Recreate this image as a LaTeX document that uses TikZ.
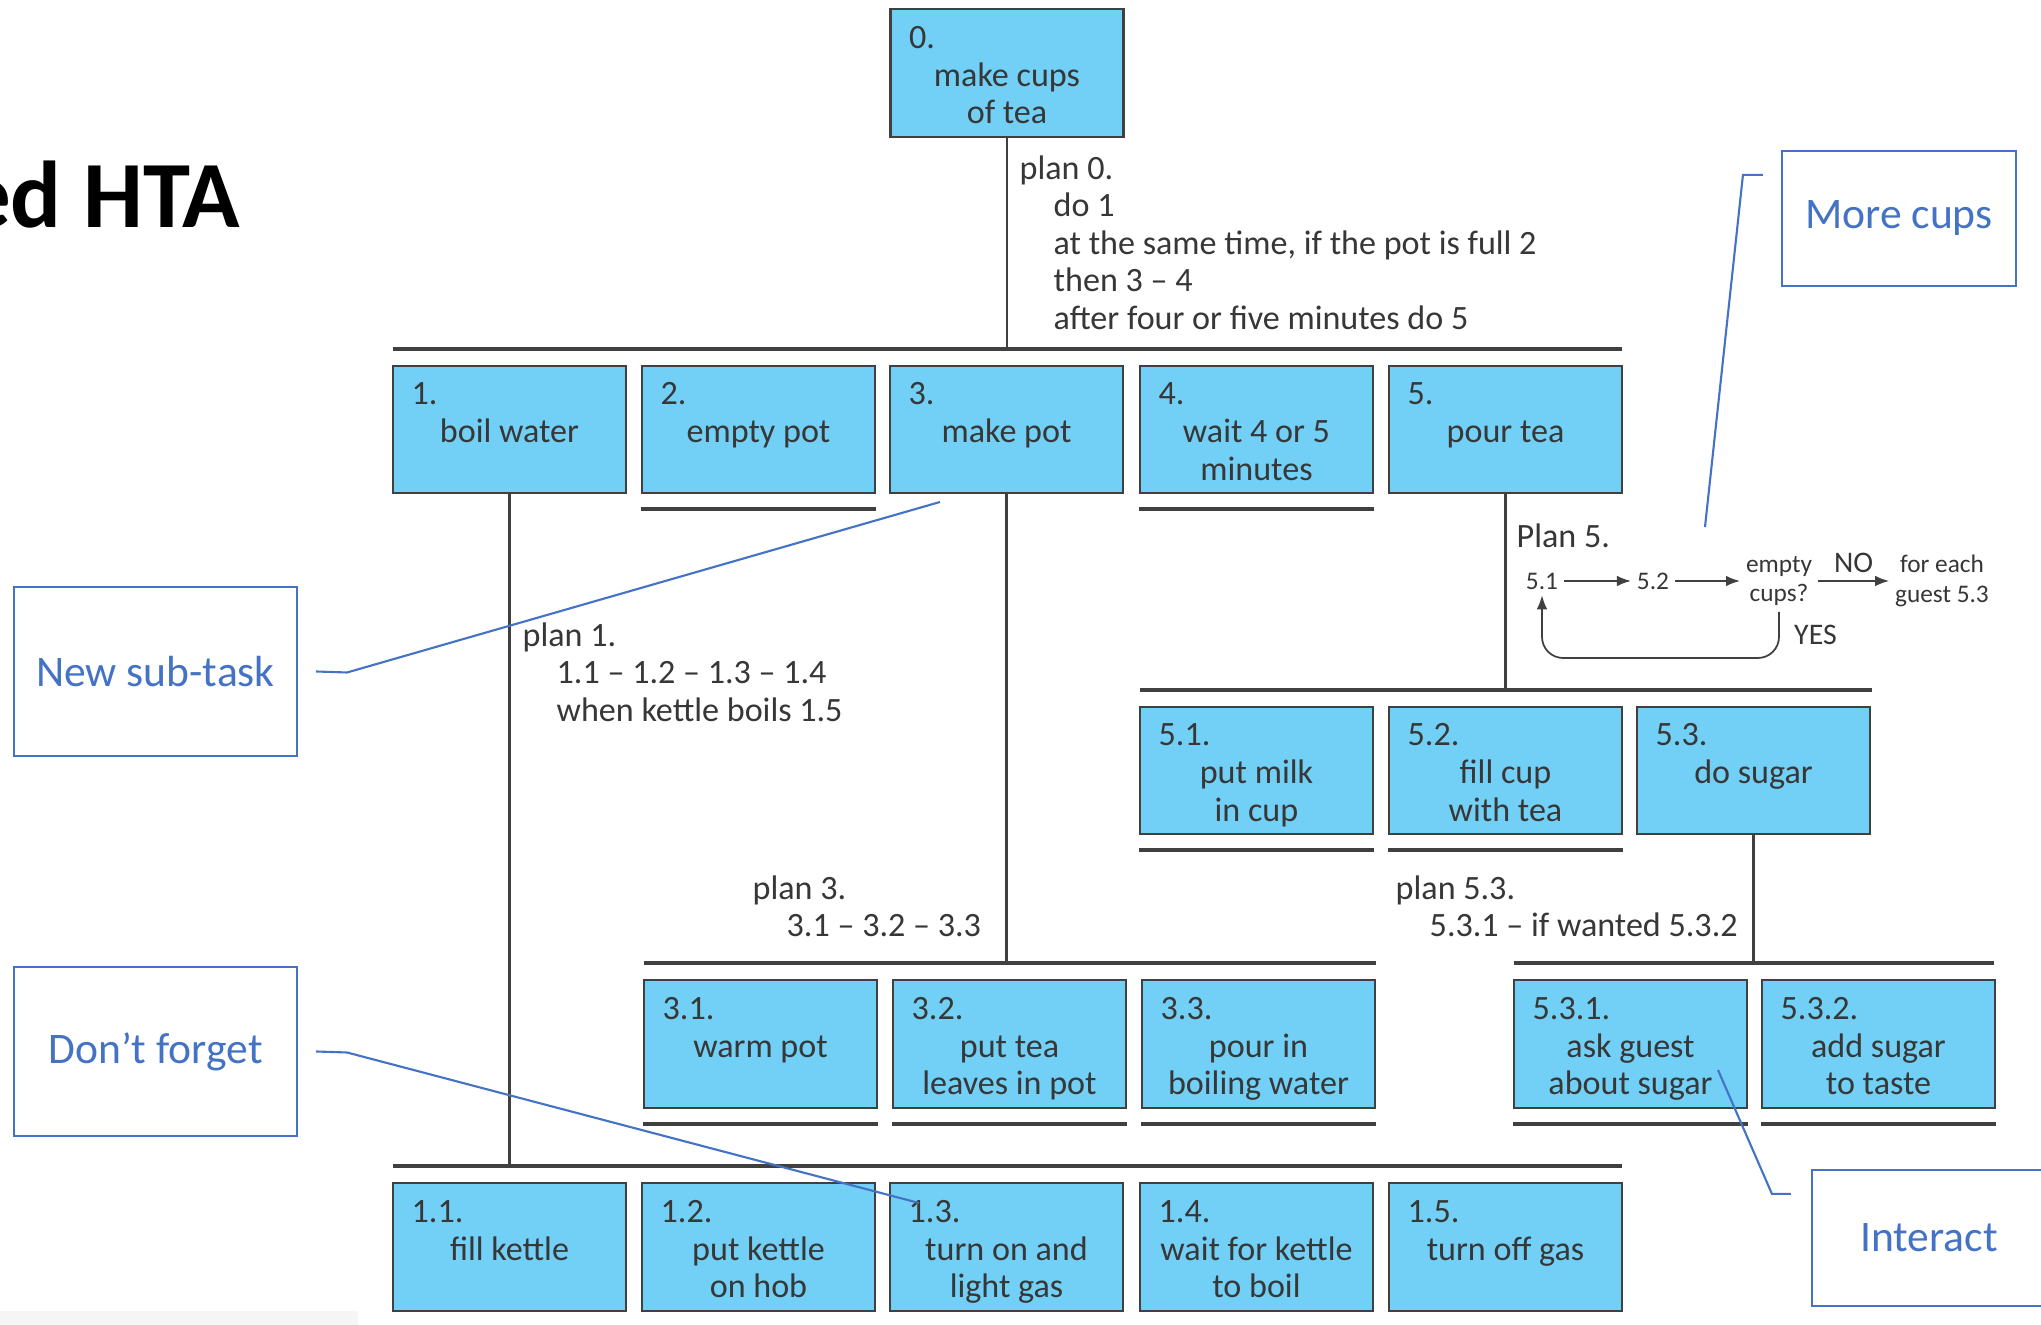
\documentclass[tikz,border=0pt]{standalone}
\usepackage{fontspec}
\setmainfont{Carlito}
\usetikzlibrary{positioning, arrows.meta}
\definecolor{taskcyan}{RGB}{114,207,245}
\definecolor{treegray}{RGB}{64,64,64}
\definecolor{inkgray}{RGB}{55,55,55}
\definecolor{noteblue}{RGB}{68,114,196}
\newcommand{\ind}{\hspace*{3.4mm}}

\begin{document}
\begin{tikzpicture}[x=0.1mm, y=-0.1mm,
    task/.style={draw=treegray, fill=taskcyan, line width=0.6pt,
                 minimum width=23.3mm, minimum height=12.76mm, inner sep=0pt},
    tasknum/.style={anchor=base west, inner sep=0pt, text=inkgray,
                    font=\fontsize{9.7}{10.7}\selectfont},
    tasktext/.style={anchor=north, inner sep=0pt, align=center, text=inkgray,
                     font=\fontsize{9.7}{10.7}\selectfont},
    plan/.style={anchor=north west, inner sep=0pt, align=left, text=inkgray,
                 font=\fontsize{9.7}{10.7}\selectfont},
    bar/.style={treegray, line width=1.1pt},
    stem/.style={treegray, line width=0.7pt},
    flow/.style={inner sep=1.5pt, align=center, text=inkgray,
                 font=\fontsize{7.2}{8.5}\selectfont},
    flowlbl/.style={inner sep=1pt, text=inkgray, font=\fontsize{8.5}{10}\selectfont},
    flowarr/.style={-{Latex[length=4pt,width=3pt]}, treegray, line width=0.5pt},
    note/.style={draw=noteblue, line width=0.6pt, text=noteblue,
                 font=\fontsize{12.4}{14}\selectfont,
                 minimum width=28.3mm, minimum height=16.9mm},
    noteline/.style={noteblue, line width=0.6pt},
  ]
    \useasboundingbox (0,0) rectangle (2041,1325);
    \clip (0,0) rectangle (2041,1325);
    \fill[white] (0,0) rectangle (2041,1325);
    \fill[black!4] (0,1311) rectangle (358,1325);

    \node[font=\fontsize{27}{30}\selectfont\bfseries, anchor=base east, inner sep=0pt]
      (title) at (241,228) {ed HTA};

    % task boxes: name/x/y/number/text
    \foreach \id/\cx/\cy/\num/\txt in {
        t0/1007/73/0./{make cups\\of tea},
        t1/509.5/429.5/1./{boil water},
        t2/758.5/429.5/2./{empty pot},
        t3/1006.5/429.5/3./{make pot},
        t4/1256.5/429.5/4./{wait 4 or 5\\minutes},
        t5/1505.5/429.5/5./{pour tea},
        t51/1256.5/770.5/5.1./{put milk\\in cup},
        t52/1505.5/770.5/5.2./{fill cup\\with tea},
        t53/1753.5/770.5/5.3./{do sugar},
        t31/760.5/1044/3.1./{warm pot},
        t32/1009.5/1044/3.2./{put tea\\leaves in pot},
        t33/1258.5/1044/3.3./{pour in\\boiling water},
        t531/1630.5/1044/5.3.1./{ask guest\\about sugar},
        t532/1878.5/1044/5.3.2./{add sugar\\to taste},
        t11/509.5/1247/1.1./{fill kettle},
        t12/758.5/1247/1.2./{put kettle\\on hob},
        t13/1006.5/1247/1.3./{turn on and\\light gas},
        t14/1256.5/1247/1.4./{wait for kettle\\to boil},
        t15/1505.5/1247/1.5./{turn off gas}} {
      \node[task] (\id) at (\cx,\cy) {};
      \node[tasknum] (\id-n) at ([xshift=1.9mm,yshift=-4mm]\id.north west) {\num};
      \node[tasktext] (\id-t) at ([yshift=-5.1mm]\id.north) {\strut\txt};
    }

    % tree bars
    \coordinate (bar0w) at (393,349);   \coordinate (bar0e) at (1622,349);
    \coordinate (bar5w) at (1140,690);  \coordinate (bar5e) at (1872,690);
    \coordinate (bar3w) at (644,963);   \coordinate (bar3e) at (1376,963);
    \coordinate (bar53w) at (1514,963); \coordinate (bar53e) at (1994,963);
    \coordinate (bar1w) at (393,1166);  \coordinate (bar1e) at (1622,1166);
    \foreach \a/\b in {bar0w/bar0e,bar5w/bar5e,bar3w/bar3e,bar53w/bar53e,bar1w/bar1e}
      \draw[bar] (\a) -- (\b);
    \foreach \t/\b in {t0/bar0w,t1/bar1w,t3/bar3w,t5/bar5w,t53/bar53w}
      \draw[stem] (\t.south) -- (\t.south |- \b);
    \foreach \t in {t2,t4,t51,t52,t31,t32,t33,t531,t532,t11,t12,t13,t14,t15}
      \draw[bar] ([yshift=-1.5mm]\t.south west) -- ([yshift=-1.5mm]\t.south east);

    % plans
    \node[plan] (plan0) at (1019,152) {\strut plan 0.\\\ind do 1\\\ind at the same time, if the pot is full 2\\\ind then 3 – 4\\\ind after four or five minutes do 5};
    \node[plan] (plan1) at (522,619) {\strut plan 1.\\\ind 1.1 – 1.2 – 1.3 – 1.4\\\ind when kettle boils 1.5};
    \node[plan] (plan3) at (752,872) {\strut plan 3.\\\ind 3.1 – 3.2 – 3.3};
    \node[plan] (plan53) at (1395,872) {\strut plan 5.3.\\\ind 5.3.1 – if wanted 5.3.2};
    \node[plan, anchor=base west] (plan5) at (1516,548) {Plan 5.};

    % plan 5 flow
    \node[flow] (f51) at (1542,581) {5.1};
    \node[flow] (f52) at (1653,581) {5.2};
    \node[flow] (fq) at (1779,581) {empty\\cups?};
    \node[flow] (fe) at (1942,581) {for each\\guest 5.3};
    \draw[flowarr] (f51) -- (f52);
    \draw[flowarr] (f52) -- (fq);
    \draw[flowarr] (fq) -- node[flowlbl, above=1pt] (no) {NO} (fe);
    \coordinate (loopb) at (1660,658);
    \draw[flowarr, rounded corners=6pt] (fq.south) |- (loopb) -| (f51.south);
    \node[flowlbl, anchor=west] (yes) at (1790,635) {YES};

    % call-outs
    \node[note] (nsub) at (155.5,671.5) {New sub-task};
    \node[note] (nforget) at (155.5,1051.5) {Don’t forget};
    \node[note, minimum width=23.4mm, minimum height=13.5mm] (nmore) at (1899,218.5) {More cups};
    \node[note, minimum width=23.4mm, minimum height=13.6mm] (ninter) at (1929,1238) {Interact};
    \coordinate (csub) at (940,502);
    \coordinate (cforget) at (919,1203);
    \coordinate (cmore) at (1705,527);
    \coordinate (cinter) at (1718,1070);
    \draw[noteline] ([xshift=1.8mm]nsub.east) -- ++(31,1) -- (csub);
    \draw[noteline] ([xshift=1.8mm]nforget.east) -- ++(31,1) -- (cforget);
    \draw[noteline] ([xshift=-1.8mm,yshift=-2.5mm]nmore.north west) -- ++(-20,0) -- (cmore);
    \draw[noteline] ([xshift=-2mm,yshift=-2.5mm]ninter.north west) -- ++(-19,0) -- (cinter);
  \end{tikzpicture}
\end{document}
